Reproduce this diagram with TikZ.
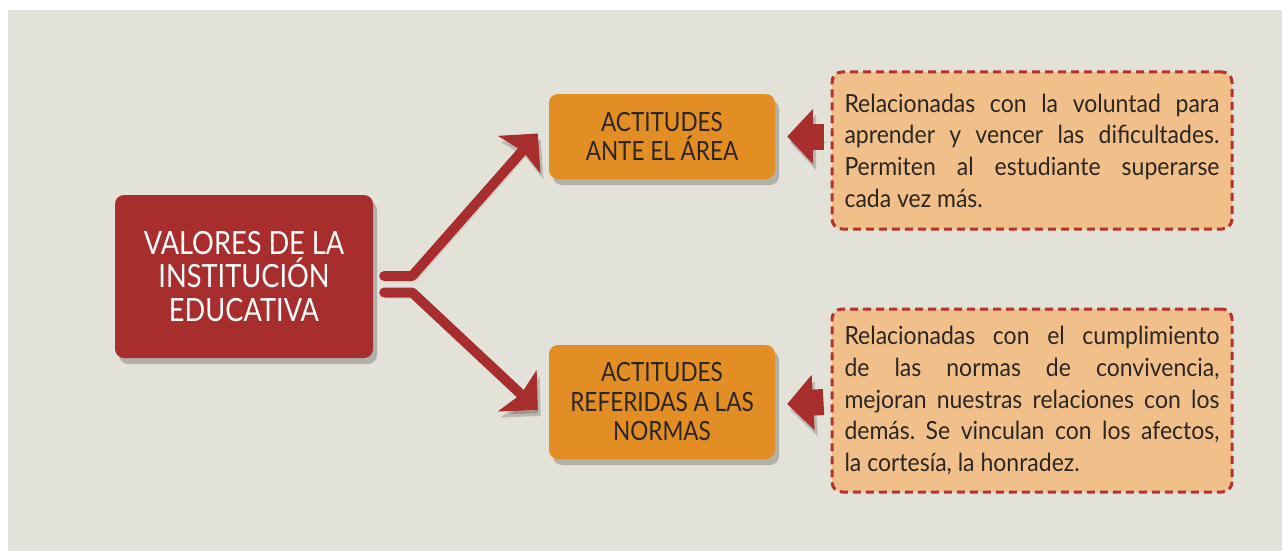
\documentclass[tikz,border=0pt]{standalone}
\usepackage{fontspec}
\setmainfont{Lato}[FakeStretch=0.85]
\newfontfamily\descfont{Lato}[FakeStretch=0.92]
\usetikzlibrary{arrows.meta,shadows}

\definecolor{fondo}{HTML}{E3E2D9}
\definecolor{rojo}{HTML}{A82E2D}
\definecolor{naranja}{HTML}{E38D25}
\definecolor{durazno}{HTML}{F1C08A}
\definecolor{borde}{HTML}{B5322E}
\definecolor{tinta}{HTML}{2A2622}

\tikzset{
  sombra/.style={drop shadow={shadow xshift=4pt,shadow yshift=-6pt,opacity=0.22,fill=black}},
  valorbox/.style={fill=rojo, rounded corners=9pt, sombra, text=white, align=center,
    minimum width=258pt, minimum height=163pt, font=\fontsize{32}{33.5}\selectfont},
  actbox/.style={fill=naranja, rounded corners=9pt, sombra, text=tinta, align=center,
    minimum width=226pt, font=\fontsize{26.5}{29.5}\selectfont},
  descbox/.style={fill=durazno, draw=borde, line width=3pt, dash pattern=on 8pt off 5pt,
    rounded corners=10pt, text=tinta, text width=375pt, align=justify, inner xsep=12.5pt,
    minimum width=400pt, font=\descfont\frenchspacing\fontsize{25}{31.7}\selectfont},
  fork/.style={draw=rojo, line width=10pt, line cap=round, line join=round,
    -{Stealth[length=28pt,width=56pt,inset=5pt]},
    preaction={draw=black, opacity=0.18, transform canvas={shift={(3pt,-6pt)}}}},
  bloque/.style={draw=rojo, line width=26pt, -{Triangle[length=26pt,width=54pt]},
    preaction={draw=black, opacity=0.18, transform canvas={shift={(3pt,-6pt)}}}},
}

\begin{document}
\begin{tikzpicture}[x=1pt,y=-1pt]
  \useasboundingbox (0,0) rectangle (1282,551);
  \fill[fondo] (8,10) rectangle (1282,551);

  % Main boxes
  \node[valorbox] (Val) at (244,276.5) {VALORES DE LA\\INSTITUCIÓN\\EDUCATIVA};
  \node[actbox, minimum height=85pt] (ActA) at (662,136.5) {ACTITUDES\\ANTE EL ÁREA};
  \node[actbox, minimum height=114pt] (ActB) at (662,402) {ACTITUDES\\REFERIDAS A LAS\\NORMAS};

  % Descriptions
  \node[descbox, minimum height=157pt] (DescA) at (1032,150.5)
    {Relacionadas con la voluntad para\linebreak aprender y vencer las dificultades.\linebreak
     Permiten al estudiante superarse\linebreak cada vez más.};
  \node[descbox, minimum height=183pt] (DescB) at (1032,400.5)
    {Relacionadas con el cumplimiento\linebreak de las normas de convivencia,\linebreak
     mejoran nuestras relaciones con los\linebreak demás. Se vinculan con los afectos,\linebreak
     la cortesía, la honradez.};

  % Fork arrows
  \draw[fork] ([xshift=11pt,yshift=0.5pt]Val.east) -- ++(28,0) -- ([xshift=-11pt,yshift=3pt]ActA.west);
  \draw[fork] ([xshift=11pt,yshift=-16pt]Val.east) -- ++(28,0) -- ([xshift=-11pt,yshift=-8pt]ActB.west);

  % Block arrows
  \draw[bloque] ([xshift=-7pt]DescA.west |- ActA.east) -- ([xshift=12pt]ActA.east);
  \draw[bloque] ([xshift=-7pt]DescB.west |- ActB.east) -- ([xshift=12pt,yshift=-2pt]ActB.east);
\end{tikzpicture}
\end{document}
